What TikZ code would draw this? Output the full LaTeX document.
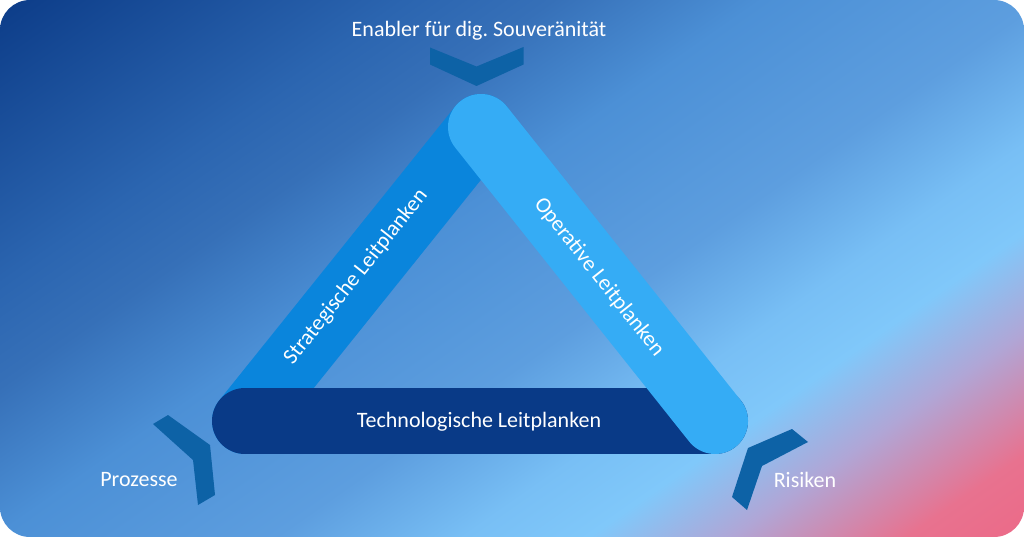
\documentclass[tikz,border=0pt]{standalone}
\usepackage{fontspec}
\setmainfont{Carlito}
\frenchspacing
\definecolor{g0}{HTML}{0C3C88}
\definecolor{g1}{HTML}{2B65B0}
\definecolor{g2}{HTML}{3670B8}
\definecolor{g3}{HTML}{4C90D6}
\definecolor{g4}{HTML}{5D9EDF}
\definecolor{g5}{HTML}{78BFF5}
\definecolor{g6}{HTML}{80C8FA}
\definecolor{g7}{HTML}{B0A6D6}
\definecolor{g8}{HTML}{E8728F}
\definecolor{g9}{HTML}{EC6A88}
\definecolor{stratc}{HTML}{0A85DC}
\definecolor{operc}{HTML}{35ACF5}
\definecolor{techc}{HTML}{093A87}
\definecolor{chevc}{HTML}{0D62A6}
\pgfdeclarehorizontalshading{bgshade}{100bp}{color(0bp)=(g0); color(28.6bp)=(g0); color(38.3bp)=(g1); color(41.8bp)=(g2); color(46.8bp)=(g3); color(53.5bp)=(g4); color(58.0bp)=(g5); color(61.0bp)=(g6); color(64.4bp)=(g7); color(68.6bp)=(g8); color(71.4bp)=(g9); color(100bp)=(g9)}
\tikzset{
  bar/.style={line width=66pt, line cap=round},
  chev/.style={fill=chevc},
  lbl/.style={text=white, font=\fontsize{22}{26}\selectfont, inner sep=0pt}
}
\begin{document}
\begin{tikzpicture}[x=1pt,y=-1pt]
\useasboundingbox (0,0) rectangle (1024,537);
\begin{scope}
\clip[rounded corners=30pt] (0,0) rectangle (1024,537);
\shade[shading=bgshade, shading angle=-55] (-88,-331.5) rectangle (1112,868.5);
\end{scope}
\coordinate (T) at (481,127);
\coordinate (L) at (245,421);
\coordinate (R) at (715,421);
\draw[bar, stratc] (L) -- (T);
\draw[bar, techc] (L) -- (R);
\draw[bar, operc] (T) -- (R);
\fill[chev] (430,47.5) -- (476.5,66.5) -- (523.5,47) -- (523.5,64.5) -- (476.5,86) -- (430,64.5) -- cycle;
\fill[chev] (153,424) -- (168,415) -- (210,445) -- (215,495) -- (198,505) -- (193,460) -- cycle;
\fill[chev] (792,429) -- (808,442) -- (762,466) -- (747,510) -- (732,497) -- (748,448) -- cycle;
\node[lbl] (enabler) at (479,31) {Enabler für dig. Souveränität};
\node[lbl] (proz) at (139,480) {Prozesse};
\node[lbl] (ris) at (805,480) {Risiken};
\node[lbl, rotate=51.5] (strat) at (356,277) {Strategische Leitplanken};
\node[lbl, rotate=-51.5] (oper) at (599,277) {Operative Leitplanken};
\node[lbl] (tech) at (479,422) {Technologische Leitplanken};
\end{tikzpicture}
\end{document}
